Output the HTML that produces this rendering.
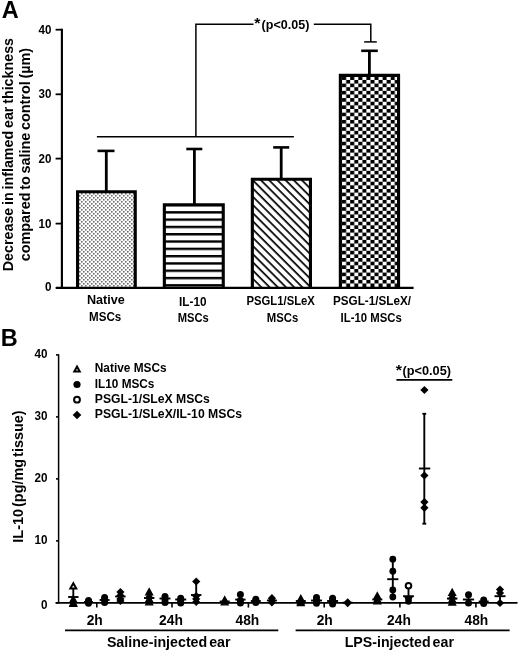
<!DOCTYPE html>
<html lang="en"><head><meta charset="utf-8"><title>Figure</title>
<style>
html,body{margin:0;padding:0;background:#fff;}
body{width:520px;height:652px;overflow:hidden;}
svg{display:block;filter:blur(0.4px);}
text{font-family:"Liberation Sans",sans-serif;font-weight:bold;fill:#000;}
line,polyline{stroke:#000;fill:none;}
</style></head><body>
<svg width="520" height="652" viewBox="0 0 520 652">
<defs>
<pattern id="dots" width="4" height="4" patternUnits="userSpaceOnUse" x="1" y="1">
<rect width="4" height="4" fill="#fbfbfb"/>
<rect x="0" y="0" width="1.6" height="1.6" fill="#707070"/>
<rect x="2" y="2" width="1.6" height="1.6" fill="#707070"/>
</pattern>
<pattern id="hstripe" width="8" height="7.3" patternUnits="userSpaceOnUse" x="0" y="211.15">
<rect width="8" height="7.3" fill="#fff"/>
<rect x="0" y="0" width="8" height="2.4" fill="#000"/>
</pattern>
<pattern id="diag" width="5.8" height="5.8" patternUnits="userSpaceOnUse" patternTransform="rotate(45)">
<rect width="5.8" height="5.8" fill="#fff"/>
<rect x="0" y="0" width="5.8" height="1.7" fill="#000"/>
</pattern>
<pattern id="check" width="8.1" height="7.27" patternUnits="userSpaceOnUse" x="342.1" y="76.3">
<rect width="8.1" height="7.27" fill="#000"/>
<rect x="4.05" y="0" width="4.05" height="3.635" fill="#fff"/>
<rect x="0" y="3.635" width="4.05" height="3.635" fill="#fff"/>
</pattern>
</defs>
<rect width="520" height="652" fill="#fff"/>

<g id="panelA">
<text x="1.8" y="18.3" font-size="23.5" text-anchor="start" >A</text>
<rect x="77.55" y="191.75" width="57.70" height="96.15" fill="url(#dots)"/>
<polyline points="77.55,287.90 77.55,191.75 135.25,191.75 135.25,287.90" stroke-width="3.1" stroke-linejoin="miter"/>
<rect x="164.35" y="204.75" width="58.90" height="83.15" fill="url(#hstripe)"/>
<polyline points="164.35,287.90 164.35,204.75 223.25,204.75 223.25,287.90" stroke-width="3.1" stroke-linejoin="miter"/>
<rect x="252.35" y="179.25" width="58.10" height="108.65" fill="url(#diag)"/>
<polyline points="252.35,287.90 252.35,179.25 310.45,179.25 310.45,287.90" stroke-width="3.1" stroke-linejoin="miter"/>
<rect x="340.35" y="75.35" width="58.20" height="212.55" fill="url(#check)"/>
<polyline points="340.35,287.90 340.35,75.35 398.55,75.35 398.55,287.90" stroke-width="3.1" stroke-linejoin="miter"/>
<line x1="106.3" y1="150.9" x2="106.3" y2="191" stroke-width="2.8" />
<line x1="97.5" y1="150.9" x2="114.5" y2="150.9" stroke-width="2.6" />
<line x1="194.4" y1="149.0" x2="194.4" y2="204" stroke-width="2.8" />
<line x1="186.3" y1="149.0" x2="202.3" y2="149.0" stroke-width="2.6" />
<line x1="281.2" y1="147.4" x2="281.2" y2="178.5" stroke-width="2.8" />
<line x1="273.2" y1="147.4" x2="289.2" y2="147.4" stroke-width="2.6" />
<line x1="369.4" y1="50.8" x2="369.4" y2="74.5" stroke-width="2.8" />
<line x1="361.2" y1="50.8" x2="377.8" y2="50.8" stroke-width="2.6" />
<line x1="61.9" y1="28.8" x2="61.9" y2="289.1" stroke-width="2.15" />
<line x1="56" y1="287.9" x2="413.6" y2="287.9" stroke-width="2.4" />
<line x1="55.6" y1="287.9" x2="62.1" y2="287.9" stroke-width="1.8" />
<text x="45.0" y="290.5" font-size="12.8" text-anchor="start" textLength="6.5" lengthAdjust="spacingAndGlyphs" >0</text>
<line x1="55.6" y1="223.6" x2="62.1" y2="223.6" stroke-width="1.8" />
<text x="38.6" y="227.6" font-size="12.8" text-anchor="start" textLength="12.9" lengthAdjust="spacingAndGlyphs" >10</text>
<line x1="55.6" y1="158.6" x2="62.1" y2="158.6" stroke-width="1.8" />
<text x="38.6" y="162.6" font-size="12.8" text-anchor="start" textLength="12.9" lengthAdjust="spacingAndGlyphs" >20</text>
<line x1="55.6" y1="94.3" x2="62.1" y2="94.3" stroke-width="1.8" />
<text x="38.6" y="98.3" font-size="12.8" text-anchor="start" textLength="12.9" lengthAdjust="spacingAndGlyphs" >30</text>
<line x1="55.6" y1="29.7" x2="62.1" y2="29.7" stroke-width="1.8" />
<text x="38.6" y="33.7" font-size="12.8" text-anchor="start" textLength="12.9" lengthAdjust="spacingAndGlyphs" >40</text>
<polyline points="96.9,136.8 293.9,136.8" stroke-width="1.5"/>
<polyline points="195.9,136.8 195.9,24.3 253.5,24.3" stroke-width="1.5"/>
<polyline points="313.8,24.3 370.8,24.3 370.8,41.9" stroke-width="1.5"/>
<line x1="364.2" y1="41.9" x2="376.8" y2="41.9" stroke-width="1.5" />
<text x="254.3" y="27.6" font-size="15" text-anchor="start" textLength="6.2" lengthAdjust="spacingAndGlyphs" >*</text>
<text x="261.6" y="28.7" font-size="13.5" text-anchor="start" textLength="47.8" lengthAdjust="spacingAndGlyphs" >(p&lt;0.05)</text>
<text x="86.9" y="304.1" font-size="13" text-anchor="start" textLength="37.9" lengthAdjust="spacingAndGlyphs" >Native</text>
<text x="89.0" y="321.0" font-size="13" text-anchor="start" textLength="32.2" lengthAdjust="spacingAndGlyphs" >MSCs</text>
<text x="179.0" y="306.2" font-size="13" text-anchor="start" textLength="27.5" lengthAdjust="spacingAndGlyphs" >IL-10</text>
<text x="177.7" y="322.0" font-size="13" text-anchor="start" textLength="31.0" lengthAdjust="spacingAndGlyphs" >MSCs</text>
<text x="246.5" y="305.3" font-size="13" text-anchor="start" textLength="68.4" lengthAdjust="spacingAndGlyphs" >PSGL1/SLeX</text>
<text x="266.7" y="321.8" font-size="13" text-anchor="start" textLength="31.5" lengthAdjust="spacingAndGlyphs" >MSCs</text>
<text x="333.0" y="304.8" font-size="13" text-anchor="start" textLength="78.0" lengthAdjust="spacingAndGlyphs" >PSGL-1/SLeX/</text>
<text x="340.6" y="321.5" font-size="13" text-anchor="start" textLength="61.1" lengthAdjust="spacingAndGlyphs" >IL-10 MSCs</text>
<text transform="translate(12.7,154.6) rotate(-90)" font-size="14" text-anchor="middle" textLength="233.3" lengthAdjust="spacingAndGlyphs" style="word-spacing:-1.2px">Decrease in inflamed ear thickness</text>
<text transform="translate(30.0,154.6) rotate(-90)" font-size="14" text-anchor="middle" textLength="213.4" lengthAdjust="spacingAndGlyphs" style="word-spacing:-1.2px">compared to saline control (µm)</text>
</g>
<g id="panelB">
<text x="0.8" y="346.3" font-size="23.5" text-anchor="start" >B</text>
<line x1="58.6" y1="354.2" x2="58.6" y2="603.6" stroke-width="1.5" />
<line x1="55.5" y1="602.9" x2="517.5" y2="602.9" stroke-width="1.6" />
<line x1="56.0" y1="602.9" x2="58.5" y2="602.9" stroke-width="1.6" />
<text x="40.9" y="608.8" font-size="12.8" text-anchor="start" textLength="6.5" lengthAdjust="spacingAndGlyphs" >0</text>
<line x1="56.0" y1="540.9" x2="58.5" y2="540.9" stroke-width="1.6" />
<text x="34.4" y="544.1" font-size="12.8" text-anchor="start" textLength="13.0" lengthAdjust="spacingAndGlyphs" >10</text>
<line x1="56.0" y1="478.9" x2="58.5" y2="478.9" stroke-width="1.6" />
<text x="34.4" y="482.1" font-size="12.8" text-anchor="start" textLength="13.0" lengthAdjust="spacingAndGlyphs" >20</text>
<line x1="56.0" y1="416.9" x2="58.5" y2="416.9" stroke-width="1.6" />
<text x="34.4" y="420.1" font-size="12.8" text-anchor="start" textLength="13.0" lengthAdjust="spacingAndGlyphs" >30</text>
<line x1="56.0" y1="354.9" x2="58.5" y2="354.9" stroke-width="1.6" />
<text x="34.4" y="358.1" font-size="12.8" text-anchor="start" textLength="13.0" lengthAdjust="spacingAndGlyphs" >40</text>
<line x1="96.8" y1="602.9" x2="96.8" y2="607.6" stroke-width="1.6" />
<line x1="172.0" y1="602.9" x2="172.0" y2="607.6" stroke-width="1.6" />
<line x1="248.4" y1="602.9" x2="248.4" y2="607.6" stroke-width="1.6" />
<line x1="324.2" y1="602.9" x2="324.2" y2="607.6" stroke-width="1.6" />
<line x1="399.9" y1="602.9" x2="399.9" y2="607.6" stroke-width="1.6" />
<line x1="475.9" y1="602.9" x2="475.9" y2="607.6" stroke-width="1.6" />
<text x="94.7" y="624.5" font-size="13.8" text-anchor="middle" >2h</text>
<text x="171.0" y="624.5" font-size="13.8" text-anchor="middle" >24h</text>
<text x="247.4" y="624.5" font-size="13.8" text-anchor="middle" >48h</text>
<text x="324.7" y="624.5" font-size="13.8" text-anchor="middle" >2h</text>
<text x="399.0" y="624.5" font-size="13.8" text-anchor="middle" >24h</text>
<text x="476.4" y="624.5" font-size="13.8" text-anchor="middle" >48h</text>
<line x1="65" y1="630.4" x2="278.3" y2="630.4" stroke-width="1.6" />
<line x1="295.6" y1="630.4" x2="509.6" y2="630.4" stroke-width="1.6" />
<text x="168.7" y="647.2" font-size="14.2" text-anchor="middle" textLength="123.6" lengthAdjust="spacingAndGlyphs" style="word-spacing:-2px">Saline-injected ear</text>
<text x="399.3" y="647.2" font-size="14.2" text-anchor="middle" textLength="109.3" lengthAdjust="spacingAndGlyphs" style="word-spacing:-2px">LPS-injected ear</text>
<text transform="translate(23.3,476.5) rotate(-90)" font-size="14.2" text-anchor="middle" textLength="132.3" lengthAdjust="spacingAndGlyphs" style="word-spacing:-2px">IL-10 (pg/mg tissue)</text>
<line x1="396.4" y1="379.8" x2="452.3" y2="379.8" stroke-width="1.7" />
<text x="395.8" y="374.9" font-size="15" text-anchor="start" textLength="6.2" lengthAdjust="spacingAndGlyphs" >*</text>
<text x="402.5" y="375.2" font-size="13.5" text-anchor="start" textLength="48.5" lengthAdjust="spacingAndGlyphs" >(p&lt;0.05)</text>
<polygon points="77.0,366.6 79.7,371.5 74.3,371.5" fill="#fff" stroke="#000" stroke-width="2" stroke-linejoin="miter"/>
<circle cx="77.0" cy="384.5" r="3.6" fill="#000"/>
<circle cx="77.0" cy="399.7" r="2.90" fill="#fff" stroke="#000" stroke-width="2"/>
<polygon points="77.0,410.7 81.3,415.0 77.0,419.3 72.7,415.0" fill="#000"/>
<text x="94.8" y="372.3" font-size="12.7" text-anchor="start" textLength="71.8" lengthAdjust="spacingAndGlyphs" >Native MSCs</text>
<text x="94.8" y="387.7" font-size="12.7" text-anchor="start" textLength="59.6" lengthAdjust="spacingAndGlyphs" >IL10 MSCs</text>
<text x="94.8" y="402.8" font-size="12.7" text-anchor="start" textLength="115.1" lengthAdjust="spacingAndGlyphs" >PSGL-1/SLeX MSCs</text>
<text x="94.8" y="418.1" font-size="12.7" text-anchor="start" textLength="147.2" lengthAdjust="spacingAndGlyphs" >PSGL-1/SLeX/IL-10 MSCs</text>
<line x1="68.1" y1="597.0" x2="78.5" y2="597.0" stroke-width="1.9" />
<line x1="73.3" y1="586" x2="73.3" y2="604" stroke-width="1.9" />
<polygon points="73.3,583.2 76.3,588.6 70.3,588.6" fill="#fff" stroke="#000" stroke-width="2" stroke-linejoin="miter"/>
<polygon points="73.3,596.0 76.8,602.3 69.8,602.3" fill="#000" stroke="#000" stroke-width="1.2"/>
<polygon points="73.3,599.5 76.8,605.8 69.8,605.8" fill="#000" stroke="#000" stroke-width="1.2"/>
<polygon points="73.3,600.0 76.8,606.3 69.8,606.3" fill="#000" stroke="#000" stroke-width="1.2"/>
<line x1="84.0" y1="602.0" x2="93.0" y2="602.0" stroke-width="1.9" />
<circle cx="88.5" cy="600.5" r="3.5" fill="#000"/>
<circle cx="88.5" cy="602.0" r="3.5" fill="#000"/>
<circle cx="88.5" cy="603.2" r="3.5" fill="#000"/>
<line x1="99.6" y1="600.0" x2="109.6" y2="600.0" stroke-width="1.9" />
<circle cx="104.6" cy="597.5" r="3.5" fill="#000"/>
<circle cx="104.6" cy="600.0" r="3.5" fill="#000"/>
<circle cx="104.6" cy="602.5" r="3.5" fill="#000"/>
<line x1="115.2" y1="596.5" x2="125.60000000000001" y2="596.5" stroke-width="1.9" />
<line x1="120.4" y1="592" x2="120.4" y2="601" stroke-width="1.9" />
<polygon points="120.4,587.9 124.5,592.0 120.4,596.1 116.3,592.0" fill="#000"/>
<polygon points="120.4,591.4 124.5,595.5 120.4,599.6 116.3,595.5" fill="#000"/>
<polygon points="120.4,594.9 124.5,599.0 120.4,603.1 116.3,599.0" fill="#000"/>
<polygon points="120.4,596.9 124.5,601.0 120.4,605.1 116.3,601.0" fill="#000"/>
<line x1="144.0" y1="598.0" x2="154.39999999999998" y2="598.0" stroke-width="1.9" />
<line x1="149.2" y1="592" x2="149.2" y2="603" stroke-width="1.9" />
<polygon points="149.2,588.5 152.7,594.8 145.7,594.8" fill="#000" stroke="#000" stroke-width="1.2"/>
<polygon points="149.2,592.0 152.7,598.3 145.7,598.3" fill="#000" stroke="#000" stroke-width="1.2"/>
<polygon points="149.2,595.5 152.7,601.8 145.7,601.8" fill="#000" stroke="#000" stroke-width="1.2"/>
<polygon points="149.2,598.5 152.7,604.8 145.7,604.8" fill="#000" stroke="#000" stroke-width="1.2"/>
<line x1="159.5" y1="598.5" x2="170.5" y2="598.5" stroke-width="1.9" />
<line x1="165.0" y1="596" x2="165.0" y2="602" stroke-width="1.9" />
<circle cx="165.0" cy="596.5" r="3.5" fill="#000"/>
<circle cx="165.0" cy="599.5" r="3.5" fill="#000"/>
<circle cx="165.0" cy="602.5" r="3.5" fill="#000"/>
<line x1="175.2" y1="599.5" x2="186.2" y2="599.5" stroke-width="1.9" />
<circle cx="180.7" cy="598.3" r="3.5" fill="#000"/>
<circle cx="180.7" cy="600.5" r="3.5" fill="#000"/>
<circle cx="180.7" cy="603.0" r="3.5" fill="#000"/>
<line x1="191.0" y1="595.0" x2="201.39999999999998" y2="595.0" stroke-width="1.9" />
<line x1="196.2" y1="582" x2="196.2" y2="602" stroke-width="1.9" />
<polygon points="196.2,577.4 200.3,581.5 196.2,585.6 192.1,581.5" fill="#000"/>
<polygon points="196.2,591.9 200.3,596.0 196.2,600.1 192.1,596.0" fill="#000"/>
<polygon points="196.2,594.9 200.3,599.0 196.2,603.1 192.1,599.0" fill="#000"/>
<polygon points="196.2,597.9 200.3,602.0 196.2,606.1 192.1,602.0" fill="#000"/>
<line x1="219.7" y1="601.5" x2="229.7" y2="601.5" stroke-width="1.9" />
<polygon points="224.7,596.5 228.2,602.8 221.2,602.8" fill="#000" stroke="#000" stroke-width="1.2"/>
<polygon points="224.7,598.5 228.2,604.8 221.2,604.8" fill="#000" stroke="#000" stroke-width="1.2"/>
<line x1="235.20000000000002" y1="599.6" x2="245.6" y2="599.6" stroke-width="1.9" />
<line x1="240.4" y1="594" x2="240.4" y2="603" stroke-width="1.9" />
<circle cx="240.4" cy="594.5" r="3.5" fill="#000"/>
<circle cx="240.4" cy="600.5" r="3.5" fill="#000"/>
<circle cx="240.4" cy="603.0" r="3.5" fill="#000"/>
<line x1="250.8" y1="601.0" x2="260.8" y2="601.0" stroke-width="1.9" />
<circle cx="255.8" cy="599.2" r="3.5" fill="#000"/>
<circle cx="255.8" cy="601.0" r="3.5" fill="#000"/>
<circle cx="255.8" cy="602.5" r="3.5" fill="#000"/>
<line x1="266.9" y1="600.5" x2="276.9" y2="600.5" stroke-width="1.9" />
<polygon points="271.9,594.1 276.0,598.2 271.9,602.3 267.8,598.2" fill="#000"/>
<polygon points="271.9,596.4 276.0,600.5 271.9,604.6 267.8,600.5" fill="#000"/>
<polygon points="271.9,598.4 276.0,602.5 271.9,606.6 267.8,602.5" fill="#000"/>
<line x1="295.8" y1="601.0" x2="305.8" y2="601.0" stroke-width="1.9" />
<polygon points="300.8,595.3 304.3,601.6 297.3,601.6" fill="#000" stroke="#000" stroke-width="1.2"/>
<polygon points="300.8,597.5 304.3,603.8 297.3,603.8" fill="#000" stroke="#000" stroke-width="1.2"/>
<polygon points="300.8,599.3 304.3,605.6 297.3,605.6" fill="#000" stroke="#000" stroke-width="1.2"/>
<line x1="311.0" y1="600.5" x2="322.0" y2="600.5" stroke-width="1.9" />
<circle cx="316.5" cy="597.5" r="3.5" fill="#000"/>
<circle cx="316.5" cy="600.5" r="3.5" fill="#000"/>
<circle cx="316.5" cy="603.2" r="3.5" fill="#000"/>
<line x1="327.1" y1="601.0" x2="338.1" y2="601.0" stroke-width="1.9" />
<circle cx="332.6" cy="598.3" r="3.5" fill="#000"/>
<circle cx="332.6" cy="601.0" r="3.5" fill="#000"/>
<circle cx="332.6" cy="604.0" r="3.5" fill="#000"/>
<line x1="342.7" y1="602.7" x2="352.7" y2="602.7" stroke-width="1.9" />
<polygon points="347.7,598.2 352.2,602.7 347.7,607.2 343.2,602.7" fill="#000"/>
<line x1="372.3" y1="599.5" x2="382.3" y2="599.5" stroke-width="1.9" />
<polygon points="377.3,592.5 380.8,598.8 373.8,598.8" fill="#000" stroke="#000" stroke-width="1.2"/>
<polygon points="377.3,596.0 380.8,602.3 373.8,602.3" fill="#000" stroke="#000" stroke-width="1.2"/>
<polygon points="377.3,597.5 380.8,603.8 373.8,603.8" fill="#000" stroke="#000" stroke-width="1.2"/>
<line x1="387.2" y1="579.2" x2="398.40000000000003" y2="579.2" stroke-width="1.9" />
<line x1="392.8" y1="559" x2="392.8" y2="597" stroke-width="1.9" />
<circle cx="392.8" cy="559.2" r="3.4" fill="#000"/>
<circle cx="392.8" cy="571.2" r="3.4" fill="#000"/>
<circle cx="392.8" cy="590.0" r="3.4" fill="#000"/>
<circle cx="392.8" cy="597.0" r="3.4" fill="#000"/>
<line x1="403.1" y1="596.2" x2="413.9" y2="596.2" stroke-width="1.9" />
<line x1="408.5" y1="587" x2="408.5" y2="600" stroke-width="1.9" />
<circle cx="408.5" cy="585.7" r="2.80" fill="#fff" stroke="#000" stroke-width="2"/>
<circle cx="408.5" cy="599.3" r="3.2" fill="#000"/>
<circle cx="408.5" cy="601.5" r="3.2" fill="#000"/>
<polygon points="403.6,596 413.4,596 408.5,604" fill="#000"/>
<line x1="424.3" y1="413.8" x2="424.3" y2="523.7" stroke-width="1.9" />
<line x1="422.4" y1="413.8" x2="426.2" y2="413.8" stroke-width="1.9" />
<line x1="422.4" y1="523.7" x2="426.2" y2="523.7" stroke-width="1.9" />
<line x1="418.9" y1="468.5" x2="430.2" y2="468.5" stroke-width="1.9" />
<polygon points="424.4,385.9 428.5,390.0 424.4,394.1 420.3,390.0" fill="#000"/>
<polygon points="424.4,471.4 428.5,475.5 424.4,479.6 420.3,475.5" fill="#000"/>
<polygon points="424.4,498.0 428.5,502.1 424.4,506.2 420.3,502.1" fill="#000"/>
<polygon points="424.4,503.7 428.5,507.8 424.4,511.9 420.3,507.8" fill="#000"/>
<line x1="447.0" y1="598.5" x2="457.4" y2="598.5" stroke-width="1.9" />
<line x1="452.2" y1="592" x2="452.2" y2="603" stroke-width="1.9" />
<polygon points="452.2,589.0 455.7,595.3 448.7,595.3" fill="#000" stroke="#000" stroke-width="1.2"/>
<polygon points="452.2,592.5 455.7,598.8 448.7,598.8" fill="#000" stroke="#000" stroke-width="1.2"/>
<polygon points="452.2,596.0 455.7,602.3 448.7,602.3" fill="#000" stroke="#000" stroke-width="1.2"/>
<polygon points="452.2,598.8 455.7,605.1 448.7,605.1" fill="#000" stroke="#000" stroke-width="1.2"/>
<line x1="462.9" y1="599.5" x2="474.1" y2="599.5" stroke-width="1.9" />
<line x1="468.5" y1="595" x2="468.5" y2="605" stroke-width="1.9" />
<circle cx="468.5" cy="594.8" r="3.5" fill="#000"/>
<circle cx="468.5" cy="603.0" r="3.5" fill="#000"/>
<line x1="478.7" y1="601.5" x2="488.7" y2="601.5" stroke-width="1.9" />
<circle cx="483.7" cy="600.0" r="3.5" fill="#000"/>
<circle cx="483.7" cy="603.5" r="3.5" fill="#000"/>
<line x1="494.5" y1="596.2" x2="505.5" y2="596.2" stroke-width="1.9" />
<line x1="500.0" y1="590" x2="500.0" y2="603" stroke-width="1.9" />
<polygon points="500.0,585.4 504.1,589.5 500.0,593.6 495.9,589.5" fill="#000"/>
<polygon points="500.0,588.9 504.1,593.0 500.0,597.1 495.9,593.0" fill="#000"/>
<polygon points="500.0,598.9 504.1,603.0 500.0,607.1 495.9,603.0" fill="#000"/>
</g>
</svg>
</body></html>
